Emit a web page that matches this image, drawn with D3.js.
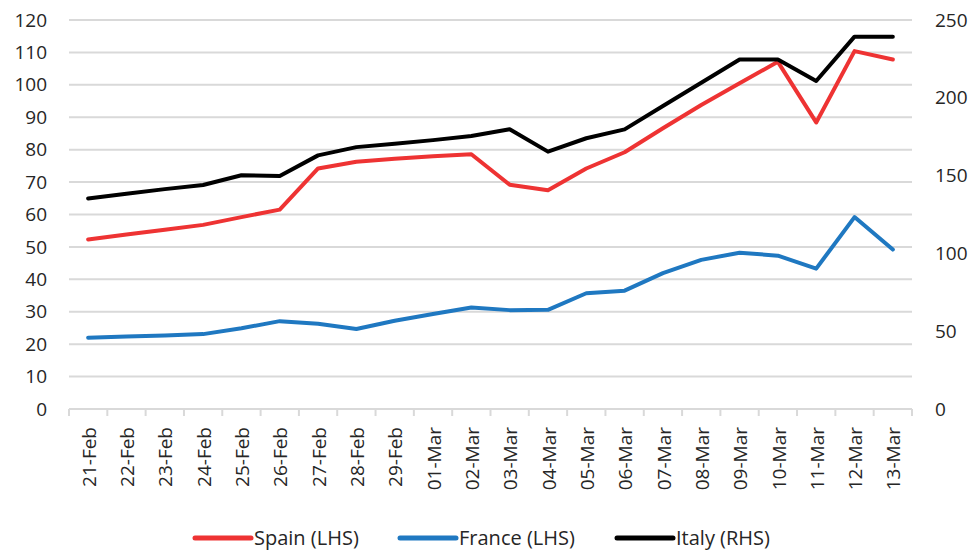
<!DOCTYPE html>
<html>
<head>
<meta charset="utf-8">
<script src="https://cdn.jsdelivr.net/npm/d3@7"></script>
<style>
  body { margin: 0; background: #fff; }
  text { font-family: "Open Sans", "Noto Sans", sans-serif; fill: #262626; }
</style>
</head>
<body>
<svg id="chart" width="974" height="554"></svg>
<script>
// categories and series (Spain/France on left axis, Italy on right axis)
var dates = ["21-Feb", "22-Feb", "23-Feb", "24-Feb", "25-Feb", "26-Feb", "27-Feb", "28-Feb", "29-Feb",
  "01-Mar", "02-Mar", "03-Mar", "04-Mar", "05-Mar", "06-Mar", "07-Mar", "08-Mar", "09-Mar",
  "10-Mar", "11-Mar", "12-Mar", "13-Mar"];
var spain = [52.3, 53.8, 55.3, 56.8, 59.2, 61.5, 74.2, 76.3, 77.2, 78, 78.6, 69.2, 67.5, 74.2, 79.2,
  86.6, 93.8, 100.5, 107.1, 88.4, 110.4, 107.8];
var france = [22, 22.4, 22.7, 23.1, 24.9, 27.1, 26.3, 24.7, 27.2, 29.3, 31.3, 30.5, 30.6, 35.7, 36.5,
  41.9, 46, 48.2, 47.3, 43.3, 59.2, 49.2];
var italy = [135.3, 138.3, 141.3, 144, 150.2, 149.8, 163, 168.3, 170.5, 172.8, 175.5, 179.8, 165.4,
  174, 179.7, 194.7, 209.7, 224.6, 224.6, 210.8, 239.3, 239.3];
var leftTicks = [0, 10, 20, 30, 40, 50, 60, 70, 80, 90, 100, 110, 120];
var rightTicks = [0, 50, 100, 150, 200, 250];

var svg = d3.select("#chart"),
    margin = {top: 20, right: 62, bottom: 145, left: 69},
    width = +svg.attr("width") - margin.left - margin.right,
    height = +svg.attr("height") - margin.top - margin.bottom,
    g = svg.append("g").attr("transform", "translate(" + margin.left + "," + margin.top + ")");

var x = d3.scaleBand().domain(dates).range([0, width]);
var yL = d3.scaleLinear().domain([0, 120]).range([height, 0]);
var yR = d3.scaleLinear().domain([0, 250]).range([height, 0]);

// gridlines
g.append("g")
  .selectAll("line")
  .data(leftTicks.slice(1))
  .enter().append("line")
    .attr("x1", 0)
    .attr("x2", width)
    .attr("y1", function(d) { return yL(d); })
    .attr("y2", function(d) { return yL(d); })
    .attr("stroke", "#d9d9d9")
    .attr("stroke-width", 2);

// left axis labels
g.append("g")
  .selectAll("text")
  .data(leftTicks)
  .enter().append("text")
    .attr("x", -22)
    .attr("y", function(d) { return yL(d); })
    .attr("dy", "0.35em")
    .attr("text-anchor", "end")
    .attr("font-size", 19)
    .text(function(d) { return d; });

// right axis labels
g.append("g")
  .selectAll("text")
  .data(rightTicks)
  .enter().append("text")
    .attr("x", width + 23)
    .attr("y", function(d) { return yR(d); })
    .attr("dy", "0.35em")
    .attr("text-anchor", "start")
    .attr("font-size", 19)
    .text(function(d) { return d; });

// x axis
var xAxis = g.append("g")
    .attr("transform", "translate(0," + height + ")");
xAxis.append("line")
    .attr("x1", 0).attr("x2", width)
    .attr("stroke", "#d9d9d9").attr("stroke-width", 2);
xAxis.selectAll(".tick")
  .data(dates.concat(["end"]))
  .enter().append("line")
    .attr("x1", function(d, i) { return i * x.step(); })
    .attr("x2", function(d, i) { return i * x.step(); })
    .attr("y1", 0).attr("y2", 7)
    .attr("stroke", "#d9d9d9").attr("stroke-width", 2);
xAxis.selectAll(".lbl")
  .data(dates)
  .enter().append("text")
    .attr("transform", function(d) {
      return "translate(" + (x(d) + x.bandwidth() / 2 + 1) + ",18) rotate(-90)";
    })
    .attr("dy", "0.35em")
    .attr("text-anchor", "end")
    .attr("font-size", 19)
    .text(function(d) { return d; });

// lines
var series = [
  {name: "Spain (LHS)", values: spain, y: yL, color: "#ee3333"},
  {name: "France (LHS)", values: france, y: yL, color: "#1f78c1"},
  {name: "Italy (RHS)", values: italy, y: yR, color: "#000000"}
];

series.forEach(function(s) {
  var line = d3.line()
      .x(function(d, i) { return x(dates[i]) + x.bandwidth() / 2; })
      .y(function(d) { return s.y(d); });
  g.append("path")
      .datum(s.values)
      .attr("fill", "none")
      .attr("stroke", s.color)
      .attr("stroke-width", 4)
      .attr("stroke-linejoin", "round")
      .attr("stroke-linecap", "round")
      .attr("d", line);
});

// legend
var legendX = [195, 400, 617];
var legend = svg.append("g")
  .selectAll("g")
  .data(series)
  .enter().append("g")
    .attr("transform", function(d, i) { return "translate(" + legendX[i] + ",538)"; });

legend.append("line")
    .attr("x1", 0).attr("x2", 56)
    .attr("stroke", function(d) { return d.color; })
    .attr("stroke-width", 5)
    .attr("stroke-linecap", "round");

legend.append("text")
    .attr("x", 59)
    .attr("dy", "0.35em")
    .attr("font-size", 20)
    .text(function(d) { return d.name; });
</script>
</body>
</html>
